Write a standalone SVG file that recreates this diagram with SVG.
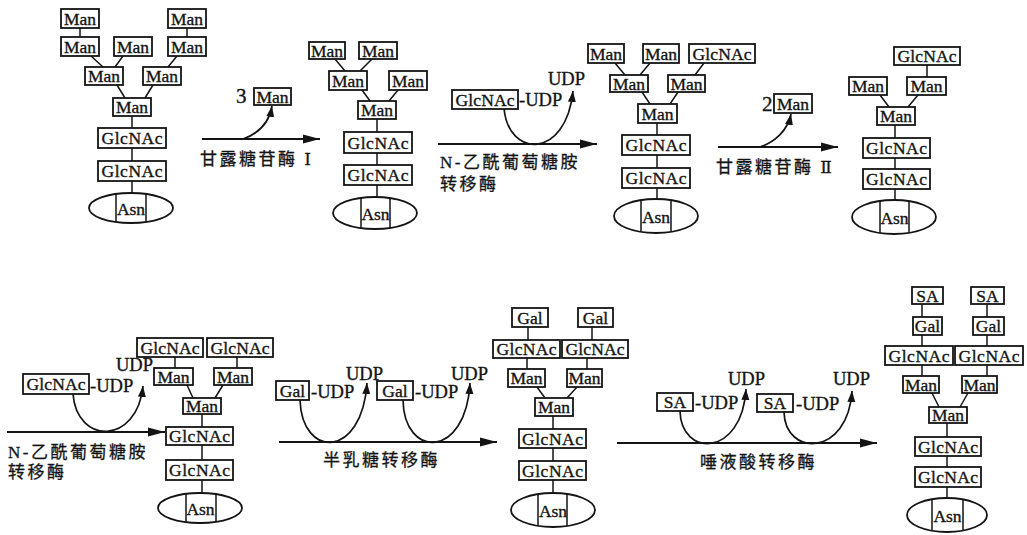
<svg xmlns="http://www.w3.org/2000/svg" width="1027" height="535" viewBox="0 0 1027 535">
<defs>
<style>
.b{fill:#fff;stroke:#141414;stroke-width:1.8}
.t{font-family:"Liberation Serif","DejaVu Serif",serif;font-size:17.5px;fill:#141414;stroke:#141414;stroke-width:0.35;text-anchor:middle}
.s{font-family:"Liberation Serif","DejaVu Serif",serif;font-size:18.5px;fill:#141414;stroke:#141414;stroke-width:0.35}
.big{font-size:21px}
.cn{font-family:"Liberation Serif","DejaVu Serif","Noto Sans CJK SC",sans-serif;font-size:17px;letter-spacing:2.5px;fill:#141414;stroke:#141414;stroke-width:0.3}
.ln{stroke:#141414;stroke-width:1.5;fill:none}
.ar{stroke:#141414;stroke-width:1.8;fill:none;marker-end:url(#ah)}
.cv{stroke:#141414;stroke-width:1.7;fill:none;marker-end:url(#sh)}
.as{fill:#fff;stroke:#141414;stroke-width:1.8}
</style>
<marker id="ah" markerWidth="18" markerHeight="10" refX="17" refY="5" orient="auto" markerUnits="userSpaceOnUse"><path d="M0,0.5 L17,5 L0,9.5 Z" fill="#141414"/></marker>
<marker id="sh" markerWidth="12" markerHeight="9" refX="11" refY="4.5" orient="auto" markerUnits="userSpaceOnUse"><path d="M0,0.5 L11,4.5 L0,8.5 Z" fill="#141414"/></marker>
</defs>
<rect width="1027" height="535" fill="#fff"/>

<g id="connectors">
<path class="ln" d="M80,28V37 M187,28V37 M91,56L103,67 M123,56L115,67 M177,56L168,67 M117,85L125,98 M153,85L145,98 M132,116V128 M132,148V161 M132,181V193"/>
<path class="ln" d="M335,59L345,71 M372,59L360,71 M362,90L370,101 M398,90L389,101 M377,119V132 M377,153V165 M377,185V197"/>
<path class="ln" d="M615,63L625,75 M650,63L640,75 M704,63L695,75 M642,92L650,104 M678,92L670,104 M657,123V135 M657,155V168 M657,188V199"/>
<path class="ln" d="M927,65V77 M880,95L889,107 M918,95L908,107 M895,125V138 M895,158V169 M895,189V200"/>
<path class="ln" d="M175,357V368 M237,357V368 M187,385L193,398 M223,385L215,398 M202,414V427 M202,445V460 M202,480V493"/>
<path class="ln" d="M528,327V340 M592,327V340 M527,358V369 M587,358V369 M537,387L545,398 M577,387L567,398 M553,416V429 M553,448V461 M553,480V493"/>
<path class="ln" d="M922,304V317 M987,304V317 M922,335V346 M987,335V346 M922,365V376 M987,365V376 M932,393L939,407 M968,393L960,407 M947,423V437 M947,456V467 M947,487V498"/>
<path class="ar" d="M202,139H320"/>
<path class="ar" d="M438,144H597"/>
<path class="ar" d="M718,147H838"/>
<path class="ar" d="M7,432H165"/>
<path class="ar" d="M279,442H497"/>
<path class="ar" d="M617,443H877"/>
<path class="cv" d="M243,139C257,134 269,124 272,106"/>
<path class="cv" d="M504,108C508,158 566,160 573,91"/>
<path class="cv" d="M760,147C775,142 788,130 791,114"/>
<path class="cv" d="M73,394C77,445 137,445 143,386"/>
<path class="cv" d="M300,400C302,459 362,459 367,383"/>
<path class="cv" d="M403,400C404,459 466,459 470,383"/>
<path class="cv" d="M680,411C681,457.5 742,457.5 746,389"/>
<path class="cv" d="M784,412C785,457 848,457 852,391"/>
</g>

<g id="labels">
<text class="cn" x="200" y="165">甘露糖苷酶 Ⅰ</text>
<text class="cn" x="440" y="168">N-乙酰葡萄糖胺</text>
<text class="cn" x="440" y="190">转移酶</text>
<text class="cn" x="716" y="173">甘露糖苷酶 Ⅱ</text>
<text class="cn" x="8" y="458">N-乙酰葡萄糖胺</text>
<text class="cn" x="8" y="478">转移酶</text>
<text class="cn" x="323" y="466">半乳糖转移酶</text>
<text class="cn" x="700" y="468">唾液酸转移酶</text>
</g>

<g id="s1-man1"><rect class="b" x="61" y="9" width="38" height="19"/><text class="t" x="80" y="24.5">Man</text></g>
<g id="s1-man2"><rect class="b" x="168" y="9" width="38" height="19"/><text class="t" x="187" y="24.5">Man</text></g>
<g id="s1-man3"><rect class="b" x="61" y="37" width="38" height="19"/><text class="t" x="80" y="52.5">Man</text></g>
<g id="s1-man4"><rect class="b" x="114" y="37" width="38" height="19"/><text class="t" x="133" y="52.5">Man</text></g>
<g id="s1-man5"><rect class="b" x="168" y="37" width="38" height="19"/><text class="t" x="187" y="52.5">Man</text></g>
<g id="s1-man6"><rect class="b" x="85" y="67" width="38" height="18"/><text class="t" x="104" y="82">Man</text></g>
<g id="s1-man7"><rect class="b" x="143" y="67" width="38" height="18"/><text class="t" x="162" y="82">Man</text></g>
<g id="s1-man8"><rect class="b" x="113" y="98" width="38" height="18"/><text class="t" x="132" y="113">Man</text></g>
<g id="s1-glc1"><rect class="b" x="98" y="128" width="68" height="20"/><text class="t" x="132" y="144" textLength="61">GlcNAc</text></g>
<g id="s1-glc2"><rect class="b" x="98" y="161" width="68" height="20"/><text class="t" x="132" y="177" textLength="61">GlcNAc</text></g>
<g id="s1-asn"><ellipse class="as" cx="131" cy="208" rx="42" ry="15"/><path class="ln" d="M116,194V222 M146,194V222"/><text class="t" x="131" y="214.5">Asn</text></g>

<g id="r1-man"><text class="s big" x="236" y="103">3</text><rect class="b" x="254" y="88" width="37" height="17"/><text class="t" x="272.5" y="102.5">Man</text></g>

<g id="s2-man1"><rect class="b" x="309" y="42" width="36" height="17"/><text class="t" x="327" y="56.5">Man</text></g>
<g id="s2-man2"><rect class="b" x="359" y="42" width="38" height="17"/><text class="t" x="378" y="56.5">Man</text></g>
<g id="s2-man3"><rect class="b" x="329" y="71" width="38" height="19"/><text class="t" x="348" y="86.5">Man</text></g>
<g id="s2-man4"><rect class="b" x="389" y="71" width="38" height="19"/><text class="t" x="408" y="86.5">Man</text></g>
<g id="s2-man5"><rect class="b" x="358" y="101" width="38" height="18"/><text class="t" x="377" y="116">Man</text></g>
<g id="s2-glc1"><rect class="b" x="344" y="132" width="68" height="21"/><text class="t" x="378" y="148.5" textLength="61">GlcNAc</text></g>
<g id="s2-glc2"><rect class="b" x="344" y="165" width="68" height="20"/><text class="t" x="378" y="181" textLength="61">GlcNAc</text></g>
<g id="s2-asn"><ellipse class="as" cx="375" cy="213" rx="42" ry="16"/><path class="ln" d="M361,198V228 M390,198V228"/><text class="t" x="375.5" y="219.5">Asn</text></g>

<g id="d2-glcnac-udp"><rect class="b" x="452" y="90" width="66" height="19"/><text class="t" x="485" y="105.5" textLength="59">GlcNAc</text><text class="s" x="519" y="106">-UDP</text></g>
<g id="d2-udp"><text class="s" x="548" y="85">UDP</text></g>

<g id="s3-man1"><rect class="b" x="588" y="44" width="36" height="19"/><text class="t" x="606" y="59.5">Man</text></g>
<g id="s3-man2"><rect class="b" x="643" y="44" width="36" height="19"/><text class="t" x="661" y="59.5">Man</text></g>
<g id="s3-glc0"><rect class="b" x="689" y="44" width="66" height="19"/><text class="t" x="722" y="59.5" textLength="59">GlcNAc</text></g>
<g id="s3-man3"><rect class="b" x="610" y="75" width="38" height="17"/><text class="t" x="629" y="89.5">Man</text></g>
<g id="s3-man4"><rect class="b" x="668" y="75" width="37" height="17"/><text class="t" x="686.5" y="89.5">Man</text></g>
<g id="s3-man5"><rect class="b" x="638" y="104" width="39" height="19"/><text class="t" x="657.5" y="119.5">Man</text></g>
<g id="s3-glc1"><rect class="b" x="622" y="135" width="68" height="20"/><text class="t" x="656" y="151" textLength="61">GlcNAc</text></g>
<g id="s3-glc2"><rect class="b" x="622" y="168" width="68" height="20"/><text class="t" x="656" y="184" textLength="61">GlcNAc</text></g>
<g id="s3-asn"><ellipse class="as" cx="656" cy="216" rx="42" ry="17"/><path class="ln" d="M641,200V232 M671,200V232"/><text class="t" x="656" y="222.5">Asn</text></g>

<g id="r3-man"><text class="s big" x="762" y="111">2</text><rect class="b" x="774" y="94" width="38" height="19"/><text class="t" x="793" y="109.5">Man</text></g>

<g id="s4-glc0"><rect class="b" x="894" y="47" width="66" height="18"/><text class="t" x="927" y="62" textLength="59">GlcNAc</text></g>
<g id="s4-man1"><rect class="b" x="849" y="77" width="38" height="18"/><text class="t" x="868" y="92">Man</text></g>
<g id="s4-man2"><rect class="b" x="907" y="77" width="39" height="18"/><text class="t" x="926.5" y="92">Man</text></g>
<g id="s4-man3"><rect class="b" x="877" y="107" width="38" height="18"/><text class="t" x="896" y="122">Man</text></g>
<g id="s4-glc1"><rect class="b" x="863" y="138" width="67" height="20"/><text class="t" x="896.5" y="154" textLength="61">GlcNAc</text></g>
<g id="s4-glc2"><rect class="b" x="863" y="169" width="67" height="20"/><text class="t" x="896.5" y="185" textLength="61">GlcNAc</text></g>
<g id="s4-asn"><ellipse class="as" cx="894" cy="217" rx="42" ry="17"/><path class="ln" d="M880,201V233 M909,201V233"/><text class="t" x="894.5" y="223.5">Asn</text></g>

<g id="d4-glcnac-udp"><rect class="b" x="23" y="374" width="66" height="20"/><text class="t" x="56" y="390" textLength="59">GlcNAc</text><text class="s" x="90" y="392">-UDP</text></g>
<g id="d4-udp"><text class="s" x="116" y="371">UDP</text></g>

<g id="s5-glc1"><rect class="b" x="137" y="338" width="66" height="19"/><text class="t" x="170" y="353.5" textLength="59">GlcNAc</text></g>
<g id="s5-glc2"><rect class="b" x="207" y="338" width="66" height="19"/><text class="t" x="240" y="353.5" textLength="59">GlcNAc</text></g>
<g id="s5-man1"><rect class="b" x="154" y="368" width="39" height="17"/><text class="t" x="173.5" y="382.5">Man</text></g>
<g id="s5-man2"><rect class="b" x="214" y="368" width="38" height="17"/><text class="t" x="233" y="382.5">Man</text></g>
<g id="s5-man3"><rect class="b" x="183" y="398" width="38" height="16"/><text class="t" x="202" y="412">Man</text></g>
<g id="s5-glc3"><rect class="b" x="166" y="427" width="67" height="18"/><text class="t" x="199.5" y="442" textLength="61">GlcNAc</text></g>
<g id="s5-glc4"><rect class="b" x="166" y="460" width="67" height="20"/><text class="t" x="199.5" y="476" textLength="61">GlcNAc</text></g>
<g id="s5-asn"><ellipse class="as" cx="200" cy="508" rx="42" ry="15"/><path class="ln" d="M186,494V522 M216,494V522"/><text class="t" x="200.5" y="514.5">Asn</text></g>

<g id="d5-gal-udp1"><rect class="b" x="276" y="381" width="33" height="19"/><text class="t" x="292.5" y="396.5">Gal</text><text class="s" x="311" y="398">-UDP</text></g>
<g id="d5-udp1"><text class="s" x="346" y="380">UDP</text></g>
<g id="d5-gal-udp2"><rect class="b" x="377" y="381" width="36" height="19"/><text class="t" x="395" y="396.5">Gal</text><text class="s" x="415" y="398">-UDP</text></g>
<g id="d5-udp2"><text class="s" x="451" y="380">UDP</text></g>

<g id="s6-gal1"><rect class="b" x="512" y="308" width="36" height="19"/><text class="t" x="530" y="323.5">Gal</text></g>
<g id="s6-gal2"><rect class="b" x="578" y="308" width="35" height="19"/><text class="t" x="595.5" y="323.5">Gal</text></g>
<g id="s6-glc1"><rect class="b" x="493" y="340" width="67" height="18"/><text class="t" x="526.5" y="355" textLength="60">GlcNAc</text></g>
<g id="s6-glc2"><rect class="b" x="562" y="340" width="66" height="18"/><text class="t" x="595" y="355" textLength="59">GlcNAc</text></g>
<g id="s6-man1"><rect class="b" x="508" y="369" width="37" height="18"/><text class="t" x="526.5" y="384">Man</text></g>
<g id="s6-man2"><rect class="b" x="567" y="369" width="35" height="18"/><text class="t" x="584.5" y="384">Man</text></g>
<g id="s6-man3"><rect class="b" x="535" y="398" width="38" height="18"/><text class="t" x="554" y="413">Man</text></g>
<g id="s6-glc3"><rect class="b" x="519" y="429" width="67" height="19"/><text class="t" x="552.5" y="444.5" textLength="61">GlcNAc</text></g>
<g id="s6-glc4"><rect class="b" x="519" y="461" width="67" height="19"/><text class="t" x="552.5" y="476.5" textLength="61">GlcNAc</text></g>
<g id="s6-asn"><ellipse class="as" cx="553" cy="510" rx="42" ry="17"/><path class="ln" d="M538,494V526 M567,494V526"/><text class="t" x="553" y="516.5">Asn</text></g>

<g id="d6-sa-udp1"><rect class="b" x="657" y="393" width="36" height="18"/><text class="t" x="675" y="408">SA</text><text class="s" x="695" y="409">-UDP</text></g>
<g id="d6-udp1"><text class="s" x="728" y="385">UDP</text></g>
<g id="d6-sa-udp2"><rect class="b" x="757" y="394" width="36" height="18"/><text class="t" x="775" y="409">SA</text><text class="s" x="796" y="410">-UDP</text></g>
<g id="d6-udp2"><text class="s" x="833" y="385">UDP</text></g>

<g id="s7-sa1"><rect class="b" x="912" y="287" width="31" height="17"/><text class="t" x="927.5" y="301.5">SA</text></g>
<g id="s7-sa2"><rect class="b" x="971" y="287" width="33" height="17"/><text class="t" x="987.5" y="301.5">SA</text></g>
<g id="s7-gal1"><rect class="b" x="913" y="317" width="29" height="18"/><text class="t" x="927.5" y="332">Gal</text></g>
<g id="s7-gal2"><rect class="b" x="973" y="317" width="31" height="18"/><text class="t" x="988.5" y="332">Gal</text></g>
<g id="s7-glc1"><rect class="b" x="885" y="346" width="68" height="19"/><text class="t" x="919" y="361.5" textLength="61">GlcNAc</text></g>
<g id="s7-glc2"><rect class="b" x="955" y="346" width="68" height="19"/><text class="t" x="989" y="361.5" textLength="61">GlcNAc</text></g>
<g id="s7-man1"><rect class="b" x="903" y="376" width="36" height="17"/><text class="t" x="921" y="390.5">Man</text></g>
<g id="s7-man2"><rect class="b" x="962" y="376" width="35" height="17"/><text class="t" x="979.5" y="390.5">Man</text></g>
<g id="s7-man3"><rect class="b" x="929" y="407" width="38" height="16"/><text class="t" x="948" y="421">Man</text></g>
<g id="s7-glc3"><rect class="b" x="915" y="437" width="66" height="19"/><text class="t" x="948" y="452.5" textLength="60">GlcNAc</text></g>
<g id="s7-glc4"><rect class="b" x="915" y="467" width="66" height="20"/><text class="t" x="948" y="483" textLength="60">GlcNAc</text></g>
<g id="s7-asn"><ellipse class="as" cx="947" cy="515" rx="40" ry="17"/><path class="ln" d="M932,499V531 M963,499V531"/><text class="t" x="947.5" y="521.5">Asn</text></g>
</svg>
